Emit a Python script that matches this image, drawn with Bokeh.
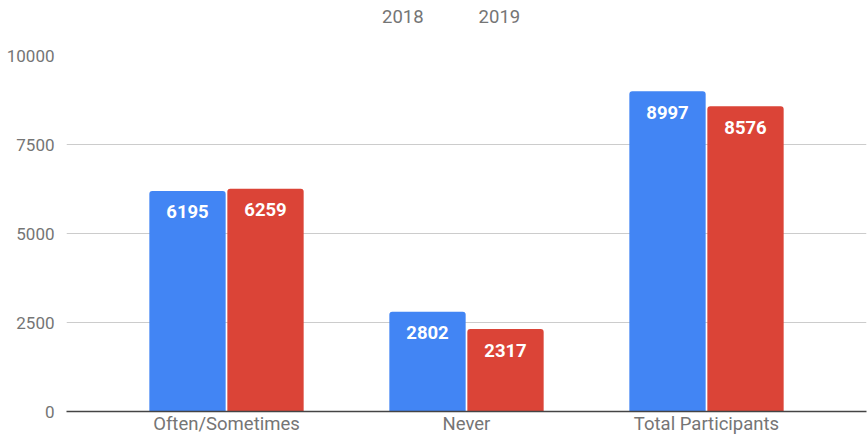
from bokeh.plotting import figure
from bokeh.layouts import column
from bokeh.models import (ColumnDataSource, FactorRange, Range1d, FixedTicker,
                          Legend, LegendItem, CDSView, IndexFilter)
from bokeh.transform import dodge
from bokeh.core.properties import value
from bokeh.embed import file_html
from bokeh.resources import INLINE

categories = ["Often/Sometimes", "Never", "Total Participants"]
series_names = ["2018", "2019"]
values_2018 = [6195, 2802, 8997]
values_2019 = [6259, 2317, 8576]
y_ticks = [0, 2500, 5000, 7500, 10000]

BLUE = "#4285F4"
RED = "#DB4437"
FONT = "Roboto"

source = ColumnDataSource(data=dict(
    cat=categories,
    v2018=values_2018,
    v2019=values_2019,
    t2018=[str(v) for v in values_2018],
    t2019=[str(v) for v in values_2019],
))

FIG_W = 868
HEAD_H = 43
MAIN_H = 438 - HEAD_H
TOP = 12
BOTTOM = 27
LEFT = 66
RIGHT = 2

x_range = FactorRange(factors=categories, range_padding=1/6,
                      range_padding_units="absolute")
p = figure(x_range=x_range, y_range=Range1d(0, 10000),
           width=FIG_W, height=MAIN_H, output_backend="svg",
           toolbar_location=None, tools="")
p.min_border_left = LEFT
p.min_border_right = RIGHT
p.min_border_top = TOP
p.min_border_bottom = BOTTOM
p.outline_line_color = None
p.background_fill_color = "white"
p.border_fill_color = "white"

W = 0.318
D = 0.1625
p.vbar(x=dodge("cat", -D, range=p.x_range), top="v2018", width=W,
       source=source, fill_color=BLUE, line_color=None,
       border_radius=(3, 3, 0, 0))
p.vbar(x=dodge("cat", D, range=p.x_range), top="v2019", width=W,
       source=source, fill_color=RED, line_color=None,
       border_radius=(3, 3, 0, 0))

for off, col in ((-D, "t2018"), (D, "t2019")):
    p.text(x=dodge("cat", off, range=p.x_range), y=col.replace("t", "v"),
           text=col, source=source, text_align="center",
           text_baseline="alphabetic", y_offset=21,
           text_color="white", text_font=value(FONT),
           text_font_style="bold", text_font_size="18.5px")

# axes
p.xgrid.grid_line_color = None
p.ygrid.grid_line_color = "#cccccc"
p.ygrid.grid_line_width = 1
p.yaxis.ticker = FixedTicker(ticks=y_ticks)
p.yaxis.axis_line_color = None
p.yaxis.major_tick_line_color = None
p.yaxis.minor_tick_line_color = None
p.yaxis.major_tick_out = 0
p.yaxis.major_tick_in = 0
p.yaxis.major_label_standoff = 12
p.yaxis.major_label_text_font = FONT
p.yaxis.major_label_text_font_size = "17px"
p.yaxis.major_label_text_color = "#757575"

p.xaxis.axis_line_color = "#444444"
p.xaxis.axis_line_width = 1.5
p.xaxis.major_tick_line_color = None
p.xaxis.minor_tick_line_color = None
p.xaxis.major_tick_out = 0
p.xaxis.major_tick_in = 0
p.xaxis.major_label_standoff = 1
p.xaxis.major_label_text_font = FONT
p.xaxis.major_label_text_font_size = "18.5px"
p.xaxis.major_label_text_color = "#757575"

# header strip holding the legend (its renderers draw no bars)
head = figure(x_range=p.x_range, y_range=Range1d(0, 10000),
              width=FIG_W, height=HEAD_H, output_backend="svg",
              toolbar_location=None, tools="",
              x_axis_location=None, y_axis_location=None)
head.min_border = 0
head.outline_line_color = None
head.grid.grid_line_color = None
h1 = head.vbar(x=dodge("cat", -D, range=head.x_range), top="v2018", width=W,
               source=source, view=CDSView(filter=IndexFilter([])),
               fill_color=BLUE, line_color=None)
h2 = head.vbar(x=dodge("cat", D, range=head.x_range), top="v2019", width=W,
               source=source, view=CDSView(filter=IndexFilter([])),
               fill_color=RED, line_color=None)

GLYPH = 22
legend = Legend(items=[LegendItem(label=series_names[0], renderers=[h1]),
                       LegendItem(label=series_names[1], renderers=[h2])],
                location=(352 - LEFT - 2, HEAD_H - 28),
                orientation="horizontal",
                glyph_width=GLYPH, glyph_height=GLYPH, label_standoff=10,
                spacing=23, padding=0, margin=0,
                label_text_font=FONT, label_text_font_size="18.5px",
                label_text_color="#757575", label_height=18,
                border_line_color=None, background_fill_alpha=0)
head.add_layout(legend, "center")

layout = column(head, p, spacing=0)
open("out.html", "w").write(file_html(layout, INLINE))
